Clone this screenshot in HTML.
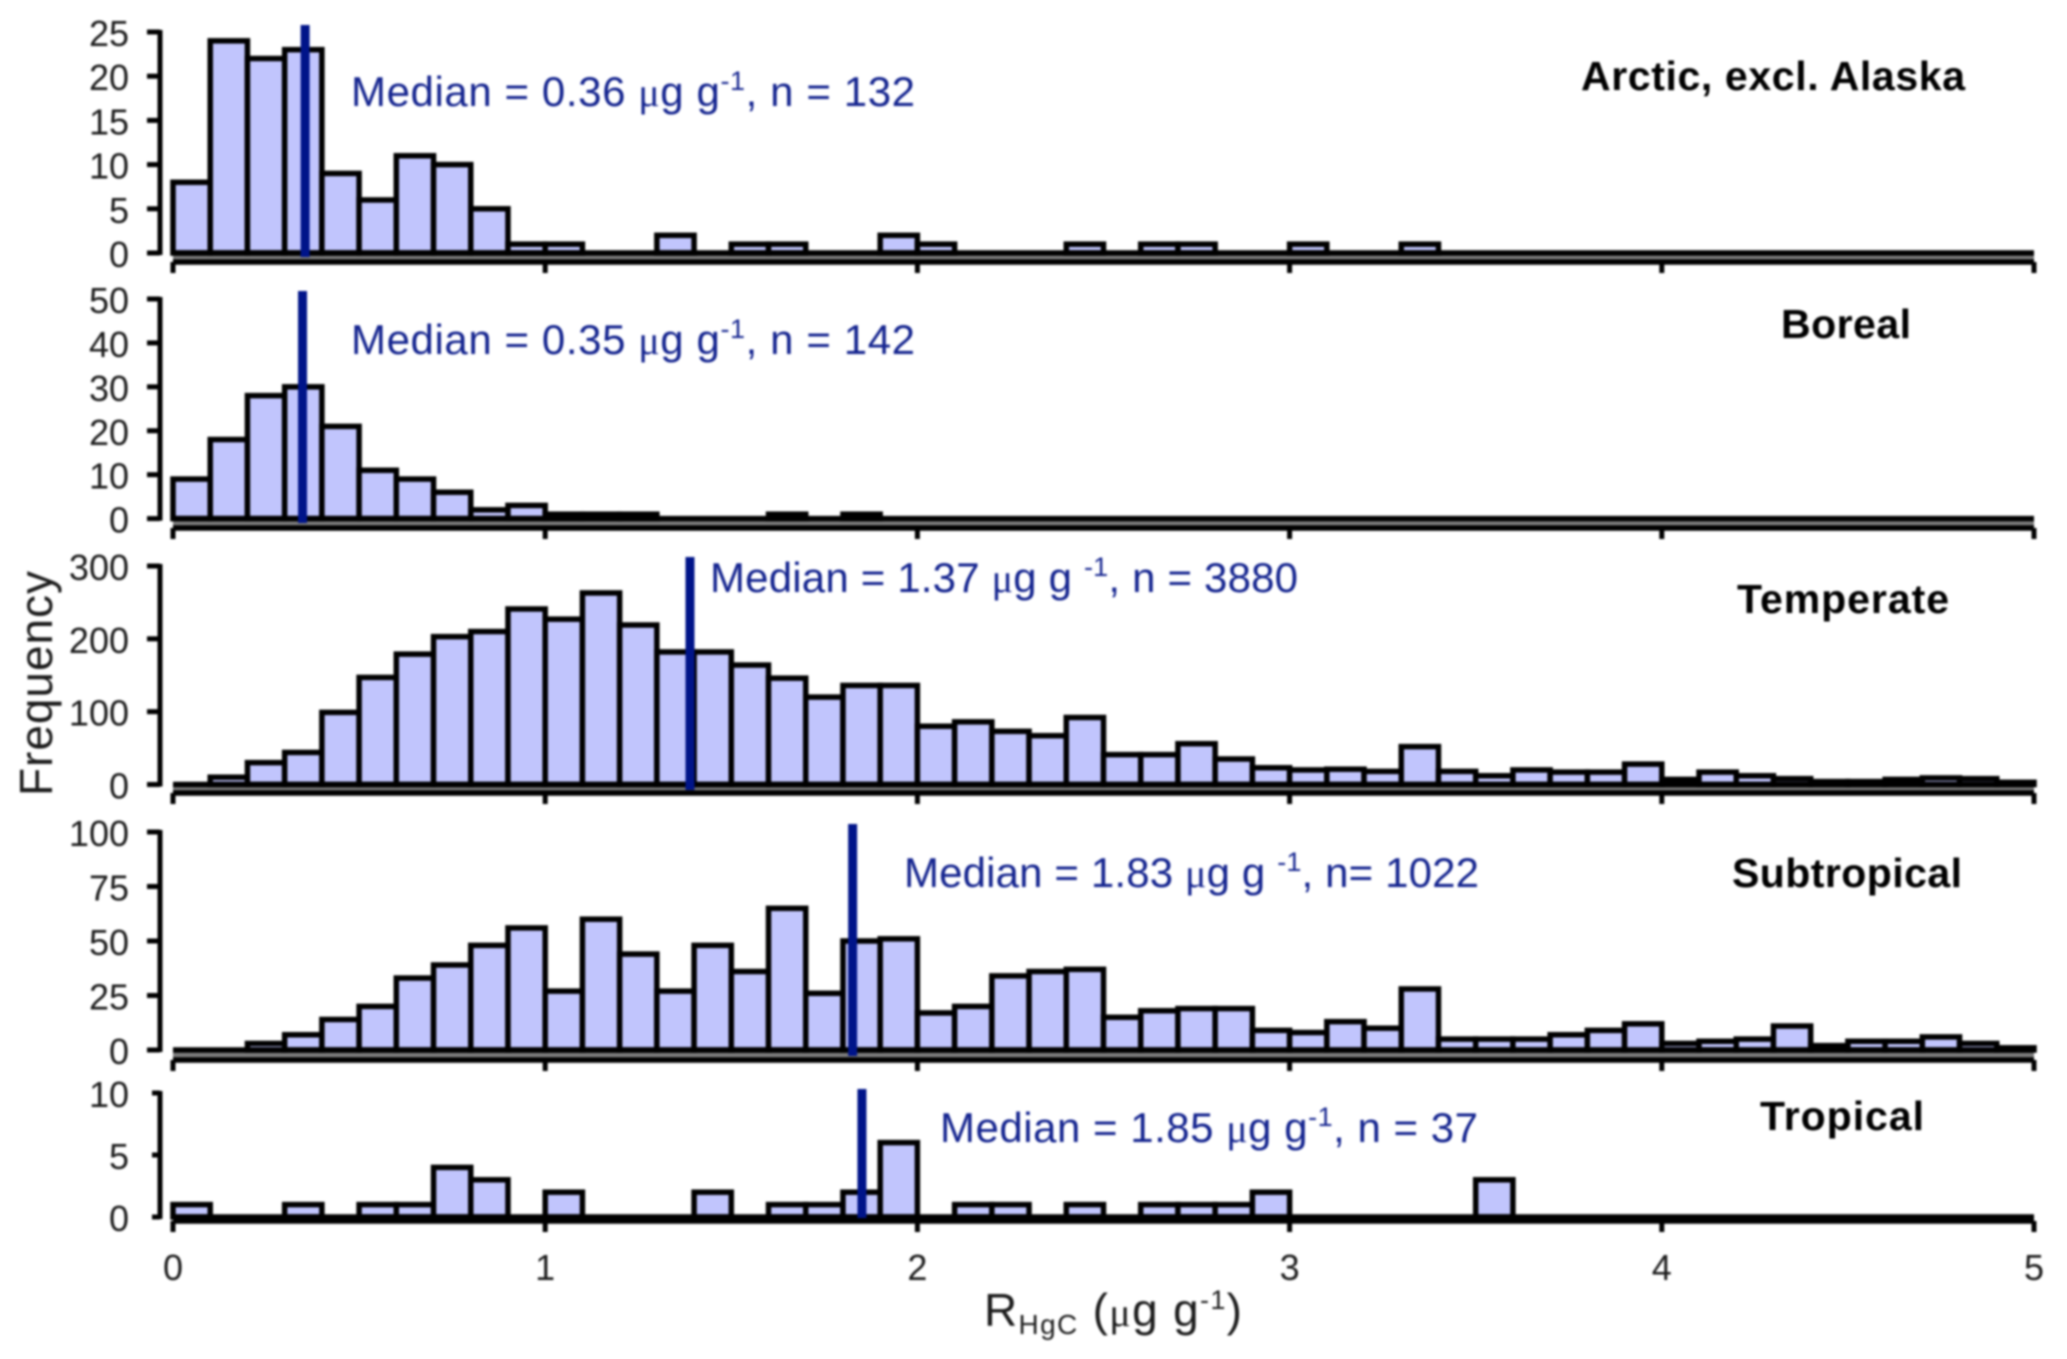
<!DOCTYPE html>
<html lang="en">
<head>
<meta charset="utf-8">
<title>RHgC frequency histograms by latitude zone</title>
<style>
html,body{margin:0;padding:0;background:#fff;}
svg{display:block;filter:blur(1px);}
text{font-family:"Liberation Sans",sans-serif;}
.tick{font-size:36px;fill:#1c1c1c;}
.med{font-size:42px;fill:#14248f;}
.mu{font-family:"Liberation Serif",serif;font-size:40px;}
.sup{font-size:27px;}
.ttl{font-size:41px;font-weight:bold;fill:#000;}
.axt{font-size:46px;fill:#1c1c1c;}
</style>
</head>
<body>
<svg id="chart" xmlns="http://www.w3.org/2000/svg" width="2067" height="1359" viewBox="0 0 2067 1359">
  <rect width="2067" height="1359" fill="#ffffff"/>
  <g id="plots"></g>

  <text class="med" x="351" y="106" textLength="564">Median = 0.36 <tspan class="mu">μ</tspan>g g<tspan class="sup" dy="-16">-1</tspan><tspan dy="16">, n = 132</tspan></text>
  <text class="med" x="351" y="354" textLength="564">Median = 0.35 <tspan class="mu">μ</tspan>g g<tspan class="sup" dy="-16">-1</tspan><tspan dy="16">, n = 142</tspan></text>
  <text class="med" x="710" y="592" textLength="588">Median = 1.37 <tspan class="mu">μ</tspan>g g <tspan class="sup" dy="-16">-1</tspan><tspan dy="16">, n = 3880</tspan></text>
  <text class="med" x="904" y="887" textLength="575">Median = 1.83 <tspan class="mu">μ</tspan>g g <tspan class="sup" dy="-16">-1</tspan><tspan dy="16">, n= 1022</tspan></text>
  <text class="med" x="940" y="1142" textLength="538">Median = 1.85 <tspan class="mu">μ</tspan>g g<tspan class="sup" dy="-16">-1</tspan><tspan dy="16">, n = 37</tspan></text>

  <text class="ttl" x="1581" y="90" textLength="384">Arctic, excl. Alaska</text>
  <text class="ttl" x="1781" y="338" textLength="130">Boreal</text>
  <text class="ttl" x="1737" y="613" textLength="212">Temperate</text>
  <text class="ttl" x="1732" y="887" textLength="230">Subtropical</text>
  <text class="ttl" x="1760" y="1130" textLength="164">Tropical</text>

  <text class="axt" transform="translate(52,796) rotate(-90)" textLength="225">Frequency</text>
  <text class="axt" x="984" y="1326" textLength="258">R<tspan font-size="28" dy="8">HgC</tspan><tspan dy="-8"> (</tspan><tspan class="mu" font-size="44">μ</tspan>g g<tspan font-size="27" dy="-17">-1</tspan><tspan dy="17">)</tspan></text>
</svg>
<script>
/* Histogram bin counts: 50 bins of width 0.1 from 0 to 5 */
var binWidth = 0.1;
var xTickLabels = [0, 1, 2, 3, 4, 5];

var arcticCounts = [8,24,22,23,9,6,11,10,5,1,1,0,0,2,0,1,1,0,0,2,1,0,0,0,1,0,1,1,0,0,1,0,0,1,0,0,0,0,0,0,0,0,0,0,0,0,0,0,0,0];
var borealCounts = [9,18,28,30,21,11,9,6,2,3,1,1,1,0,0,0,1,0,1,0,0,0,0,0,0,0,0,0,0,0,0,0,0,0,0,0,0,0,0,0,0,0,0,0,0,0,0,0,0,0];
var temperateCounts = [0,10,30,44,99,147,179,203,210,241,227,263,219,182,182,164,146,120,136,136,80,86,73,67,92,41,41,56,35,23,20,21,18,52,18,12,20,17,17,28,7,17,12,8,4,4,7,9,8,3];
var subtropicalCounts = [0,0,3,7,14,20,33,39,48,56,27,60,44,27,48,36,65,26,50,51,17,20,34,36,37,15,18,19,19,9,8,13,10,28,5,5,5,7,9,12,3,4,5,11,2,4,4,6,3,1];
var tropicalCounts = [1,0,0,1,0,1,1,4,3,0,2,0,0,0,2,0,1,1,2,6,0,1,1,0,1,0,1,1,1,2,0,0,0,0,0,3,0,0,0,0,0,0,0,0,0,0,0,0,0,0];

var arcticTicks = [0,5,10,15,20,25];
var borealTicks = [0,10,20,30,40,50];
var temperateTicks = [0,100,200,300];
var subtropicalTicks = [0,25,50,75,100];
var tropicalTicks = [0,5,10];

var arcticMedian = 0.355;
var borealMedian = 0.348;
var temperateMedian = 1.389;
var subtropicalMedian = 1.826;
var tropicalMedian = 1.851;

/* Layout of each panel (separate from the data) */
var panels = [
  {id:'arctic', counts:arcticCounts, ticks:arcticTicks, median:arcticMedian, y0:253, yTop:32, axisY:262, medTop:25, medBot:257, showLabels:false, tickLen:13, bandFill:'#7c7c7c'},
  {id:'boreal', counts:borealCounts, ticks:borealTicks, median:borealMedian, y0:518.6, yTop:299, axisY:528, medTop:291, medBot:523, showLabels:false, tickLen:13, bandFill:'#7c7c7c'},
  {id:'temperate', counts:temperateCounts, ticks:temperateTicks, median:temperateMedian, y0:784.5, yTop:566, axisY:793, medTop:557, medBot:790, showLabels:false, tickLen:13, bandFill:'#7c7c7c'},
  {id:'subtropical', counts:subtropicalCounts, ticks:subtropicalTicks, median:subtropicalMedian, y0:1050, yTop:832, axisY:1060, medTop:824, medBot:1056, showLabels:false, tickLen:13, bandFill:'#7c7c7c'},
  {id:'tropical', counts:tropicalCounts, ticks:tropicalTicks, median:tropicalMedian, y0:1217, yTop:1093, axisY:1221, medTop:1089, medBot:1218, showLabels:true, tickLen:8, bandFill:'#000000'}
];

var NS = 'http://www.w3.org/2000/svg';
var plots = document.getElementById('plots');
var xLeft = 173, xRight = 2034, xDomainMax = 5, yAxisX = 160;

function xScale(v){ return xLeft + (v / xDomainMax) * (xRight - xLeft); }
function yScaleFor(p){
  var maxTick = p.ticks[p.ticks.length - 1];
  return function(v){ return p.y0 - (v / maxTick) * (p.y0 - p.yTop); };
}
function make(tag, attrs, parent){
  var el = document.createElementNS(NS, tag);
  for (var k in attrs) el.setAttribute(k, attrs[k]);
  parent.appendChild(el);
  return el;
}

panels.forEach(function(p){
  var y = yScaleFor(p);
  var g = make('g', {}, plots);
  
  

  // band between bar baseline and x axis
  var band = make('rect', {x:xLeft, y:p.y0, width:xRight-xLeft, height:Math.max(0,p.axisY-p.y0), fill:p.bandFill}, g);
  
  

  // bars
  p.counts.forEach(function(c, i){
    var x0 = xScale(i * binWidth), x1 = xScale((i + 1) * binWidth);
    var bar = make('rect', {
      x:x0, y:y(c), width:x1-x0, height:Math.max(0,y(0)-y(c)),
      fill:'#c1c5fd', stroke:'#000', 'stroke-width':5.5
    }, g);
    
    
  });

  // baseline
  var base = make('line', {x1:xLeft, x2:xRight, y1:y(0), y2:y(0), stroke:'#000', 'stroke-width':5.5}, g);
  
  

  // x axis
  var xAxis = make('line', {x1:xLeft, x2:xRight, y1:p.axisY, y2:p.axisY, stroke:'#000', 'stroke-width':5.5}, g);
  
  

  xTickLabels.forEach(function(t){
    var tick = make('line', {x1:xScale(t), x2:xScale(t), y1:p.axisY, y2:p.axisY+11, stroke:'#000', 'stroke-width':5}, g);
    
    
    if (p.showLabels) {
      var lab = make('text', {x:xScale(t), y:1280, 'text-anchor':'middle', 'class':'tick'}, g);
      lab.textContent = String(t);
      
      
    }
  });

  // y axis
  var yAxis = make('line', {x1:yAxisX, x2:yAxisX, y1:y(p.ticks[p.ticks.length-1])-2, y2:y(0)+2, stroke:'#000', 'stroke-width':5}, g);
  
  

  p.ticks.forEach(function(t){
    var tick = make('line', {x1:yAxisX-p.tickLen, x2:yAxisX, y1:y(t), y2:y(t), stroke:'#000', 'stroke-width':5}, g);
    
    
    var lab = make('text', {x:129, y:y(t)+14, 'text-anchor':'end', 'class':'tick'}, g);
    lab.textContent = String(t);
    
    
  });

  // median marker
  var med = make('line', {x1:xScale(p.median), x2:xScale(p.median), y1:p.medTop, y2:p.medBot, stroke:'#001489', 'stroke-width':9}, g);
  
  
});
</script>
</body>
</html>
